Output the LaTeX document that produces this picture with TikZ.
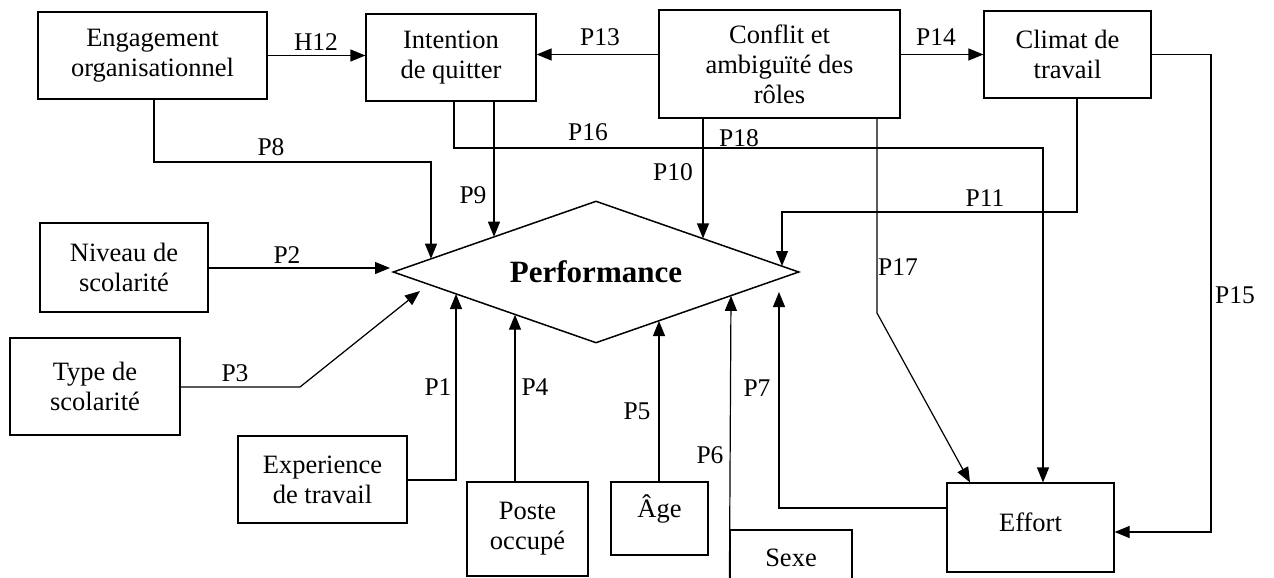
\documentclass[tikz,border=0pt]{standalone}
\usepackage{fontspec}
\setmainfont{Liberation Serif}
\usetikzlibrary{arrows.meta,shapes.geometric}
\begin{document}
\begin{tikzpicture}[x=1pt,y=-1pt,
  box/.style={draw, line width=1.2pt, inner sep=0pt, align=center, font=\fontsize{26.5}{30}\selectfont},
  lbl/.style={font=\fontsize{25.5}{30}\selectfont, inner sep=0pt},
  arr/.style={line width=1.2pt, -{Triangle[length=15pt,width=12pt]}},
  ln/.style={line width=1.2pt}]
\useasboundingbox (0,0) rectangle (1274,578);
% boxes
\node[box, minimum width=229pt, minimum height=87pt] (eng) at (152.5,55.5) {Engagement\\organisationnel};
\node[box, minimum width=170pt, minimum height=87pt] (int) at (451,57.5) {Intention\\de quitter};
\node[box, minimum width=241pt, minimum height=108pt] (conf) at (779.5,64) {Conflit et\\ambiguïté des\\rôles};
\node[box, minimum width=167pt, minimum height=87pt] (clim) at (1067.5,54.5) {Climat de\\travail};
\node[box, minimum width=168pt, minimum height=89pt] (niv) at (124,267.5) {Niveau de\\scolarité};
\node[box, minimum width=170pt, minimum height=97pt] (type) at (95,386.5) {Type de\\scolarité};
\node[box, minimum width=169pt, minimum height=87pt] (exp) at (322.5,479.5) {Experience\\de travail};
\node[box, minimum width=121pt, minimum height=94pt] (poste) at (527.5,529) {Poste\\occupé};
\node[box, minimum width=97pt, minimum height=73pt, text depth=24pt] (age) at (659.5,518.5) {Âge};
\node[box, minimum width=122pt, minimum height=55pt] (sexe) at (791,557.5) {Sexe};
\node[box, minimum width=167pt, minimum height=89pt, text depth=10pt] (effort) at (1030.5,527.5) {Effort};
\node[diamond, draw, line width=1.5pt, minimum width=406pt, minimum height=142pt, aspect=2.86, inner sep=0pt,
  font=\bfseries\fontsize{31}{36}\selectfont] (perf) at (596,272) {Performance};
% tip coordinates on the diamond
\coordinate (t8) at (431,258.7);
\coordinate (t9) at (494,236.7);
\coordinate (t10) at (703,238.4);
\coordinate (t11) at (782,266);
\coordinate (t2) at (390,268);
\coordinate (t3) at (420,291);
\coordinate (t1) at (456,294);
\coordinate (t4) at (515,314.7);
\coordinate (t5) at (659,321);
\coordinate (t6) at (731,295.8);
\coordinate (t7) at (779,292);
% connectors
\draw[arr] (eng.east) -- (int.west |- eng.east);
\draw[arr] (conf.west |- clim.east) -- (int.east |- clim.east);
\draw[arr] (conf.east |- clim.east) -- (clim.west);
\draw[arr] (clim.east) -| (1211,532) -- (effort.east |- 0,532);
\draw[arr] (clim.south -| 1077,0) |- (782,212) -- (t11);
\draw[arr] (conf.south -| 703,0) -- (t10);
\draw[arr] (conf.south -| 877,0) -- (877,313) -- (effort.north -| 970,0);
\draw[arr] (int.south -| 454,0) |- (1043,148) -- (effort.north -| 1043,0);
\draw[arr] (int.south -| 494,0) -- (t9);
\draw[arr] (eng.south -| 154,0) |- (431,162) -- (t8);
\draw[arr] (niv.east |- 0,268) -- (t2);
\draw[arr] (type.east |- 0,387) -- (300,387) -- (t3);
\draw[arr] (exp.east |- 0,480) -| (t1);
\draw[arr] (poste.north -| 515,0) -- (t4);
\draw[arr] (age.north -| 659,0) -- (t5);
\draw[arr] (sexe.south west) -- (t6);
\draw[arr] (effort.west |- 0,508) -| (t7);
% labels
\node[lbl] (lH12) at (316,42) {H12};
\node[lbl] (lP13) at (600,37) {P13};
\node[lbl] (lP14) at (936,37) {P14};
\node[lbl] (lP8) at (271,147) {P8};
\node[lbl] (lP16) at (588,132) {P16};
\node[lbl] (lP18) at (739,138) {P18};
\node[lbl] (lP9) at (473,195) {P9};
\node[lbl] (lP10) at (673,172) {P10};
\node[lbl] (lP11) at (985,198) {P11};
\node[lbl] (lP2) at (287,255) {P2};
\node[lbl] (lP3) at (235,373) {P3};
\node[lbl] (lP1) at (438,387) {P1};
\node[lbl] (lP4) at (535,387) {P4};
\node[lbl] (lP5) at (637,411) {P5};
\node[lbl] (lP6) at (710,455) {P6};
\node[lbl] (lP7) at (757,388) {P7};
\node[lbl] (lP17) at (898,267) {P17};
\node[lbl] (lP15) at (1235,295) {P15};
\end{tikzpicture}
\end{document}
